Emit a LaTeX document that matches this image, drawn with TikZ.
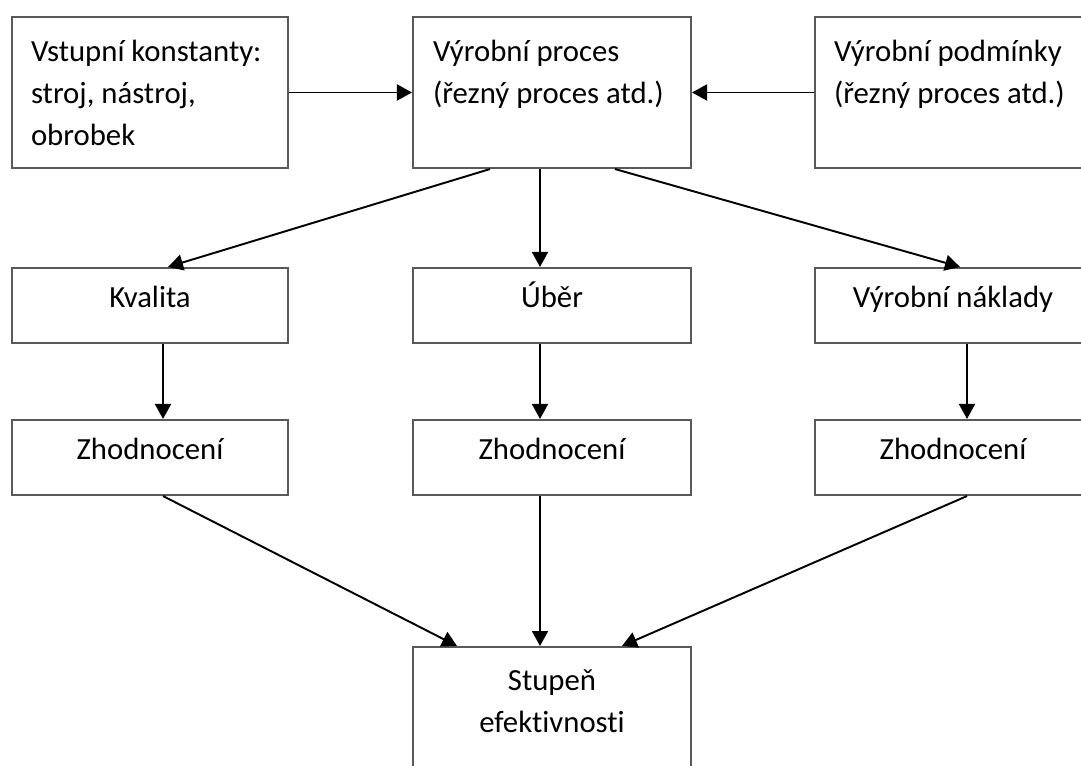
\documentclass[tikz,border=0pt]{standalone}
\usepackage{fontspec}
\setmainfont{Carlito}[Ligatures=NoCommon]
\usetikzlibrary{arrows.meta}

\tikzset{
  box/.style={draw=black!65, line width=1.2pt, minimum width=5.52cm, minimum height=1.5cm,
    inner sep=0pt, text height=9pt, text depth=7pt, font=\fontsize{17.5}{23.9}\selectfont},
  topbox/.style={box, minimum height=3.02cm, align=flush left, text width=4.76cm,
    text height=, text depth=},
  midbox/.style={minimum width=5.56cm},
  arr/.style={-{Triangle[length=0.3cm,width=0.32cm]}, line width=1.1pt},
}

\begin{document}
\begin{tikzpicture}[x=0.02cm, y=-0.02cm]
 \useasboundingbox (0,0) rectangle (1081,766);

 % top row
 \node (inp)  [topbox] at (150,92.5) {Vstupní konstanty:\\stroj, nástroj,\\obrobek};
 \node (proc) [topbox, midbox] at (552,92.5) {Výrobní proces\\(řezný proces atd.)\\\mbox{}};
 \node (cond) [topbox] at (953,92.5) {Výrobní podmínky\\(řezný proces atd.)\\\mbox{}};

 % results
 \node (kval) [box] at (150,305.5) {Kvalita};
 \node (uber) [box, midbox] at (552,305.5) {Úběr};
 \node (nakl) [box] at (953,305.5) {Výrobní náklady};

 % evaluation
 \node (zh1) [box] at (150,457.5) {Zhodnocení};
 \node (zh2) [box, midbox] at (552,457.5) {Zhodnocení};
 \node (zh3) [box] at (953,457.5) {Zhodnocení};

 \node (eff) [box, midbox, anchor=north, minimum height=3cm, align=center,
   text height=, text depth=] at (552,646) {Stupeň\\efektivnosti\\\mbox{}};

 \draw[arr] (inp) -- (proc);
 \draw[arr] (cond) -- (proc);
 \draw[arr] ([xshift=-1.24cm]proc.south) -- ([xshift=0.36cm]kval.north);
 \draw[arr] ([xshift=-0.24cm]proc.south) -- ([xshift=-0.24cm]uber.north);
 \draw[arr] ([xshift=1.26cm]proc.south) -- ([xshift=0.14cm]nakl.north);

 \draw[arr] ([xshift=0.26cm]kval.south) -- ([xshift=0.26cm]zh1.north);
 \draw[arr] ([xshift=-0.24cm]uber.south) -- ([xshift=-0.24cm]zh2.north);
 \draw[arr] ([xshift=0.28cm]nakl.south) -- ([xshift=0.28cm]zh3.north);

 \draw[arr] ([xshift=0.26cm]zh1.south) -- ([xshift=-1.9cm]eff.north);
 \draw[arr] ([xshift=-0.24cm]zh2.south) -- ([xshift=-0.24cm]eff.north);
 \draw[arr] ([xshift=0.28cm]zh3.south) -- ([xshift=1.4cm]eff.north);
\end{tikzpicture}
\end{document}
